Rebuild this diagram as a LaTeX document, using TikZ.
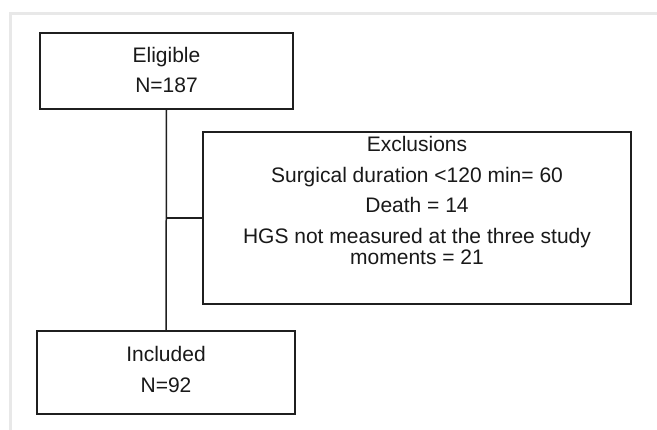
\documentclass[tikz,border=0pt]{standalone}
\usepackage{fontspec}
\setmainfont{Liberation Sans}
\begin{document}
\begin{tikzpicture}[x=1pt,y=-1pt,
  boxstyle/.style={draw=black!88,line width=1.5pt,rectangle,inner sep=0pt},
  lbl/.style={anchor=base,inner sep=0pt,font=\fontsize{21}{21}\selectfont,text=black!90},
  conn/.style={draw=black!88,line width=1.5pt}]
\useasboundingbox (0,0) rectangle (657,430);
\fill[white] (0,0) rectangle (657,430);
\draw[line width=3pt,black!9] (10,430) -- (10,14) -- (657,14);
% boxes
\node[boxstyle,minimum width=253pt,minimum height=76pt] (elig) at (166.5,71) {};
\node[boxstyle,minimum width=428pt,minimum height=172pt] (excl) at (417,218) {};
\node[boxstyle,minimum width=258pt,minimum height=83pt] (incl) at (166,372.5) {};
% texts
\node[lbl] (e1) at (166.5,63) {Eligible};
\node[lbl] (e2) at (166.5,93) {N=187};
\node[lbl] (x1) at (417,152) {Exclusions};
\node[lbl] (x2) at (417,183) {Surgical duration <120 min= 60};
\node[lbl] (x3) at (417,213) {Death = 14};
\node[lbl] (x4) at (417,244) {HGS not measured at the three study};
\node[lbl] (x5) at (417,265) {moments = 21};
\node[lbl] (i1) at (166,362) {Included};
\node[lbl] (i2) at (166,393) {N=92};
% connectors
\coordinate (j) at (elig.south |- excl.west);
\draw[conn] (elig.south) -- (incl.north);
\draw[conn] (j) -- (excl.west);
\end{tikzpicture}
\end{document}
